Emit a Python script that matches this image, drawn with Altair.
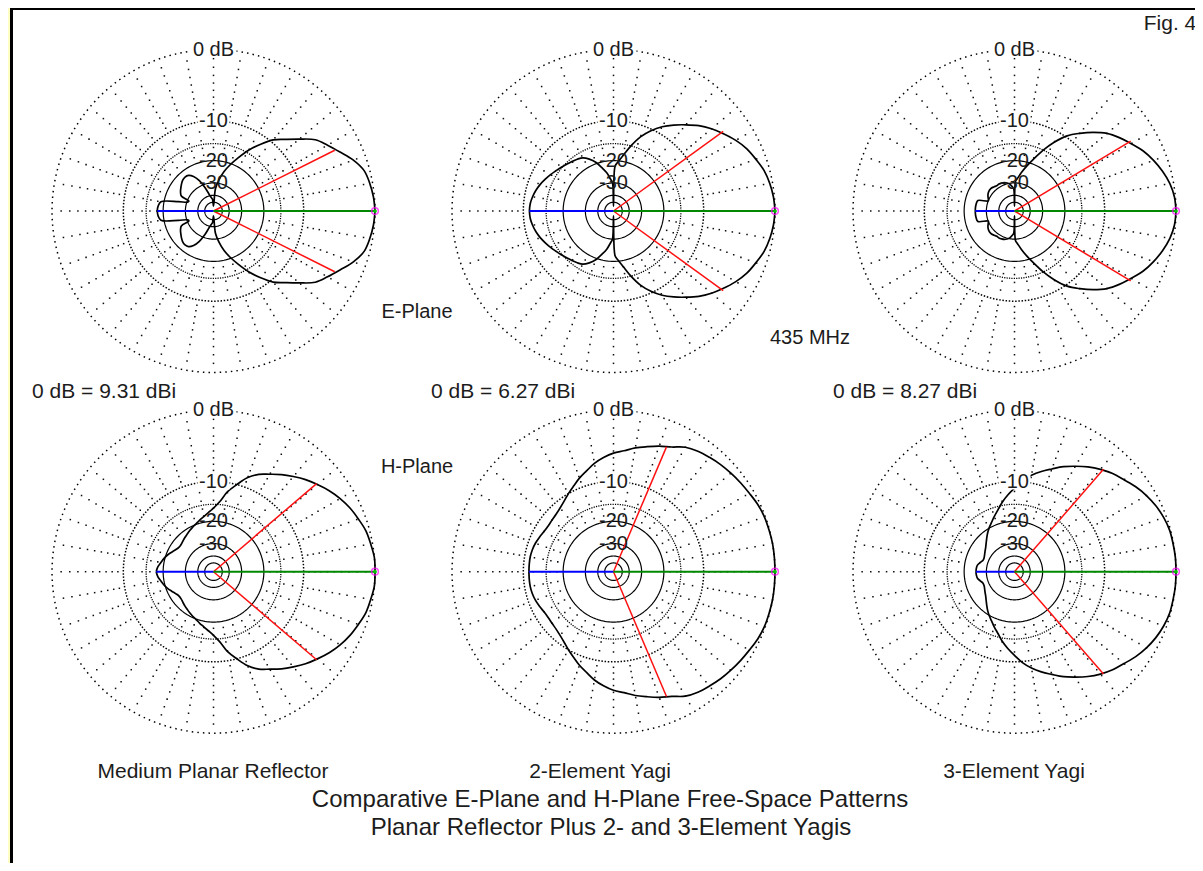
import altair as alt
import pandas as pd

# ------------------------------------------------------------------ data
# relative field (dB) vs azimuth (deg, 0 = boresight); patterns are symmetric
e_mpr_ang = [0, 5, 10, 15, 20, 25, 30, 35, 40, 45, 50, 55, 60, 65, 70, 75, 80, 85, 90,
             95, 100, 105, 110, 115, 120, 125, 130, 135, 140, 145, 150, 155, 158, 161,
             165, 170, 175, 180]
e_mpr_db = [0, -0.1, -0.3, -0.6, -1.4, -2.5, -3.5, -4.5, -6.3, -8.0, -9.5, -11.8, -14.3, -17.3, -20.3, -23.6, -28, -34, -60,
            -45, -42, -38, -32, -27, -24, -22.5, -22.2, -22.5, -23.2, -24, -24.8, -26, -31, -30.5,
            -25.7, -19.0, -18.3, -18.1]

e_2el_ang = [0, 5, 10, 15, 20, 25, 30, 36, 40, 45, 50, 55, 60, 65, 70, 75, 80, 85, 88, 90, 92, 95,
             100, 105, 110, 115, 120, 125, 130, 135, 140, 145, 150, 155, 160, 165, 170, 175, 180]
e_2el_db = [0, -0.1, -0.3, -0.6, -1.1, -1.6, -2.3, -3.3, -4.0, -5.0, -6.2, -7.4, -8.7, -10.3, -12.3, -15, -18, -20.5,
            -22, -60, -30, -28,
            -24.5, -22, -19.5, -17.8, -16.6, -16.1, -15.7, -15.3, -14.8, -14.3, -13.7, -13.1, -12.5, -12.0, -11.6, -11.3, -11.2]

e_3el_ang = [0, 5, 10, 15, 20, 25, 31, 35, 40, 45, 50, 55, 60, 65, 70, 75, 80, 85, 88, 90, 92, 95,
             100, 105, 110, 115, 120, 125, 130, 135, 140, 145, 150, 155, 159, 164, 170, 175, 180]
e_3el_db = [0, -0.1, -0.4, -0.9, -1.5, -2.2, -3.3, -4.0, -5.0, -6.4, -8.0, -9.7, -12.2, -15.2, -18.5, -21.5, -24.5, -27.5,
            -29, -60, -34, -32.5,
            -30.5, -29.5, -28.8, -28.5, -28.3, -28.4, -28, -27.5, -27.5, -27.8, -28.5, -29.5, -30, -24.8, -24.4, -24.3, -24.3]

h_ang = [0, 5, 10, 15, 20, 25, 30, 35, 40, 45, 50, 55, 60, 65, 70, 75, 80, 85, 90,
         95, 100, 105, 110, 115, 120, 125, 130, 135, 140, 145, 150, 155, 160, 165, 170, 175, 180]
h_mpr_db = [0, 0, -0.2, -0.4, -0.8, -1.2, -1.7, -2.3, -3.0, -3.7, -4.5, -5.3, -6.2, -7.0, -8.2, -10.0, -11.8, -14.3, -16.0,
            -17.2, -18.2, -19.0, -19.8, -20.4, -21, -21.6, -22.1, -22.6, -23, -23, -22.4, -21.5, -20.5, -19.7, -19.0, -18.2, -17.8]
h_2el_db = [0, 0, 0, -0.05, -0.1, -0.25, -0.5, -0.7, -0.9, -1.1, -1.35, -1.6, -2.0, -2.75, -3.25, -3.8, -4.3, -4.9, -5.3,
            -5.9, -6.6, -7.5, -8.3, -9.2, -10.0, -10.8, -11.4, -11.8, -12.0, -12.1, -12.0, -11.7, -11.4, -11.2, -11.1, -11.1, -11.1]
h_3el_db = [0, 0, -0.05, -0.1, -0.3, -0.6, -1.0, -1.5, -2.1, -2.6, -3.25, -4.0, -4.85, -5.7, -6.7, -7.6, -8.6, -9.8, -11.3,
            -12.7, -14.2, -15.9, -17.3, -18.7, -19.9, -21.2, -22.6, -23.9, -25, -25.8, -26.5, -27, -27, -26, -25, -24.7, -24.6]

# half-power (-3 dB) half-beamwidth, degrees, and back (180 deg) level, dB
beam_half_angle = [26.6, 36, 31, 40.5, 67, 49]
back_db = [-18.1, -11.2, -24.3, -17.8, -11.1, -24.6]

gain_labels = ["0 dB = 9.31 dBi", "0 dB = 6.27 dBi", "0 dB = 8.27 dBi"]
antenna_names = ["Medium Planar Reflector", "2-Element Yagi", "3-Element Yagi"]
title_lines = ["Comparative E-Plane and H-Plane Free-Space Patterns",
               "Planar Reflector Plus 2- and 3-Element Yagis"]
ring_levels = [0, -10, -15, -20, -30, -40, -50]
ring_label_levels = [0, -10, -20, -30]
ring_label_texts = ["0 dB", "-10", "-20", "-30"]
dot_levels = [-1, -2, -3, -4, -5, -6, -7, -8, -9, -12, -14, -16, -18]

patterns = [(e_mpr_ang, e_mpr_db), (e_2el_ang, e_2el_db), (e_3el_ang, e_3el_db),
            (h_ang, h_mpr_db), (h_ang, h_2el_db), (h_ang, h_3el_db)]

# ------------------------------------------------------------------ layout (page pixels)
R = 161.5
col_cx = [213.5, 613.5, 1014.5]
row_cy = [211.0, 571.7]
panel_cx = [col_cx[i % 3] for i in range(6)]
panel_cy = [row_cy[i // 3] for i in range(6)]
FONT = "Liberation Sans"
INK = "#1c1c1c"

# ------------------------------------------------------------------ tables
pat_rows = []
for i, (angs, dbs) in enumerate(patterns):
    for side in (1, -1):
        for a, d in zip(angs, dbs):
            pat_rows.append(dict(key=f"{i}_{side}", ang=a, db=d, side=side,
                                 cx=panel_cx[i], cy=panel_cy[i]))
pat = pd.DataFrame(pat_rows)

ring_rows = []
for i in range(6):
    for lv in ring_levels:
        for a in range(0, 361, 2):
            ring_rows.append(dict(key=f"{i}_{lv}", level=lv, db=lv, ang=a, side=1,
                                  cx=panel_cx[i], cy=panel_cy[i]))
rings = pd.DataFrame(ring_rows)

dot_rows = []
for i in range(6):
    for lv in dot_levels:
        for a in range(0, 360, 10):
            dot_rows.append(dict(db=lv, ang=a, side=1, cx=panel_cx[i], cy=panel_cy[i]))
dots = pd.DataFrame(dot_rows)

rule_rows = []
for i in range(6):
    for sgn in (1, -1):
        rule_rows.append(dict(kind="beam", ang=sgn * beam_half_angle[i], db=-3,
                              cx=panel_cx[i], cy=panel_cy[i]))
    rule_rows.append(dict(kind="back", ang=180, db=back_db[i], cx=panel_cx[i], cy=panel_cy[i]))
    rule_rows.append(dict(kind="front", ang=0, db=0, cx=panel_cx[i], cy=panel_cy[i]))
rules = pd.DataFrame(rule_rows)

lab_rows = []
for i in range(6):
    for lv, tx in zip(ring_label_levels, ring_label_texts):
        lab_rows.append(dict(db=lv, ang=90, side=1, text=tx, cx=panel_cx[i], cy=panel_cy[i],
                             halfw=23 if lv == 0 else 16))
labs = pd.DataFrame(lab_rows)

ann_text = ["Fig. 4", "E-Plane", "435 MHz", "H-Plane"] + gain_labels + antenna_names + title_lines
ann_x = [1170, 417, 810, 417, 32, 431, 833, 213, 600, 1014, 610, 611]
ann_y = [24, 312, 338, 467, 392, 392, 392, 772, 772, 772, 800, 828]
ann_size = [21, 20, 20, 20, 21, 21, 21, 21, 21, 21, 24, 24]
ann_align = ["center"] * 4 + ["left"] * 3 + ["center"] * 5
ann = pd.DataFrame(dict(text=ann_text, px=ann_x, py=ann_y, size=ann_size, align=ann_align))

# ------------------------------------------------------------------ encodings
xs = alt.Scale(domain=[8, 1195], nice=False, zero=False)
ys = alt.Scale(domain=[863, 8], nice=False, zero=False)
X = alt.X("px:Q", scale=xs, axis=None)
Y = alt.Y("py:Q", scale=ys, axis=None)

R_EXPR = f"{R}*pow(0.89, -datum.db/2)"


def polar(ch):
    return ch.transform_calculate(r=R_EXPR).transform_calculate(
        px="datum.cx + datum.r*cos(datum.ang*PI/180)",
        py="datum.cy - datum.side*datum.r*sin(datum.ang*PI/180)")


# white sheet with a black edge on top and left (right / bottom run off the page)
frame = alt.Chart(pd.DataFrame({"a": [0]})).mark_rect(
    fill="white", stroke="black", strokeWidth=3).encode(
    x=alt.value(3.5), x2=alt.value(1200), y=alt.value(0.5), y2=alt.value(870))

ring_base = polar(alt.Chart(rings)).encode(x=X, y=Y, detail="key:N", order=alt.Order("ang:Q"))
ring0 = ring_base.transform_filter("datum.level == 0").mark_line(
    color="black", strokeWidth=1.5, strokeDash=[1.5, 4.1])
ring10 = ring_base.transform_filter("datum.level == -10").mark_line(
    color="black", strokeWidth=1.5, strokeDash=[1.5, 1.7])
ring15 = ring_base.transform_filter("datum.level == -15").mark_line(
    color="black", strokeWidth=1.3, strokeDash=[1.2, 1.2])
ring_in = ring_base.transform_filter("datum.level <= -20").mark_line(
    color="black", strokeWidth=1.2)

dot_layer = polar(alt.Chart(dots)).mark_square(size=2.3, color="black", opacity=0.95).encode(x=X, y=Y)

trace = polar(alt.Chart(pat)).mark_line(
    color="black", strokeWidth=1.7, interpolate="catmull-rom").encode(
    x=X, y=Y, detail="key:N", order=alt.Order("ang:Q"))

rule_base = alt.Chart(rules).transform_calculate(r=R_EXPR).transform_calculate(
    px="datum.cx", py="datum.cy",
    px2="datum.cx + datum.r*cos(datum.ang*PI/180)",
    py2="datum.cy - datum.r*sin(datum.ang*PI/180)").encode(
    x=X, y=Y, x2="px2:Q", y2="py2:Q")
red = rule_base.transform_filter("datum.kind == 'beam'").mark_rule(color="#FF1010", strokeWidth=1.5)
blue = rule_base.transform_filter("datum.kind == 'back'").mark_rule(color="#0000FF", strokeWidth=2)
green = rule_base.transform_filter("datum.kind == 'front'").mark_rule(color="#008800", strokeWidth=2)

marker_base = alt.Chart(rules).transform_filter("datum.kind == 'front'").transform_calculate(
    px=f"datum.cx + {R}", py="datum.cy").encode(x=X, y=Y)
marker_m = marker_base.mark_point(shape="circle", size=45, filled=False, color="#FF00FF", strokeWidth=1.5)
marker_g = marker_base.mark_point(shape="circle", size=14, filled=True, color="#00C000", opacity=1)

lab_base = polar(alt.Chart(labs))
lab_bg = lab_base.transform_filter("datum.db >= -10").transform_calculate(
    bx="datum.px - datum.halfw", bx2="datum.px + datum.halfw",
    by="datum.py - 8", by2="datum.py + 8").mark_rect(fill="white").encode(
    x=alt.X("bx:Q", scale=xs, axis=None), x2="bx2:Q",
    y=alt.Y("by:Q", scale=ys, axis=None), y2="by2:Q")
lab_txt = lab_base.mark_text(font=FONT, fontSize=20, color=INK, baseline="middle", align="center").encode(
    x=X, y=Y, text="text:N")

ann_c = alt.Chart(ann).transform_filter("datum.align == 'center'").mark_text(
    font=FONT, color=INK, baseline="middle", align="center").encode(
    x=X, y=Y, text="text:N", size=alt.Size("size:Q", scale=None, legend=None))
ann_l = alt.Chart(ann).transform_filter("datum.align == 'left'").mark_text(
    font=FONT, color=INK, baseline="middle", align="left").encode(
    x=X, y=Y, text="text:N", size=alt.Size("size:Q", scale=None, legend=None))

chart = alt.layer(
    frame, ring0, ring10, ring15, ring_in, dot_layer, trace,
    red, blue, green, marker_m, marker_g, lab_bg, lab_txt, ann_c, ann_l
).properties(
    width=1187, height=855, padding=0, autosize="none", background="#FFFFC4"
).configure_view(strokeWidth=0)

chart.save("out.html", embed_options={"renderer": "svg", "actions": False})
